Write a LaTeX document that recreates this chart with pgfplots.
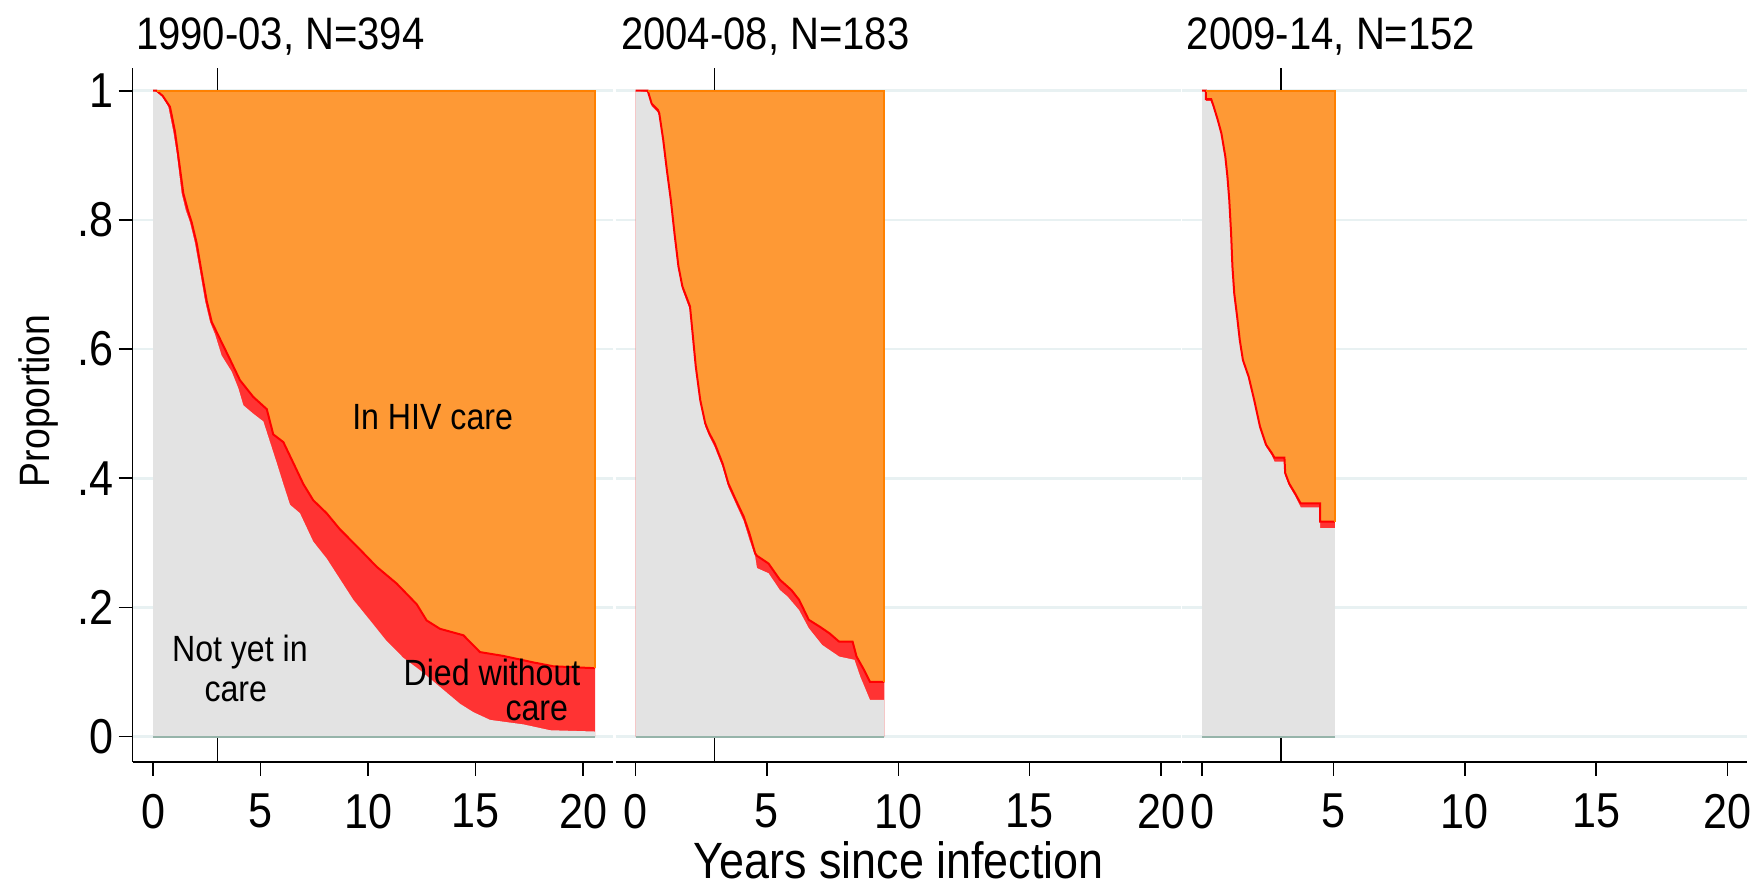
\documentclass[border=0pt]{standalone}
\usepackage{pgfplots}
\usepackage{pgfplotstable}
\pgfplotsset{compat=1.18}
\usepackage{fontspec}
\setmainfont{Liberation Sans}[FakeStretch=0.88]

\definecolor{orangec}{RGB}{254,153,53}
\definecolor{orangeline}{RGB}{255,128,0}
\definecolor{redc}{RGB}{255,51,51}
\definecolor{redline}{RGB}{255,0,0}
\definecolor{greyc}{RGB}{227,227,227}
\definecolor{tealc}{RGB}{150,180,170}
\definecolor{gridc}{RGB}{232,241,242}

% Panel 1: 1990-03  (D = not yet in care + died; G = not yet in care)
\pgfplotstableread{
t v
0 1
0.17 1
0.45 0.992
0.79 0.975
1.02 0.937
1.18 0.898
1.41 0.841
1.62 0.815
1.80 0.796
2.03 0.764
2.26 0.719
2.50 0.674
2.73 0.642
3.11 0.616
3.58 0.584
4.04 0.552
4.66 0.526
5.29 0.507
5.59 0.468
6.06 0.456
6.52 0.424
6.99 0.391
7.45 0.366
8.07 0.346
8.69 0.321
9.47 0.295
10.40 0.263
11.33 0.237
12.26 0.205
12.72 0.180
13.34 0.167
14.43 0.157
15.20 0.131
16.29 0.125
17.68 0.115
18.61 0.109
20.55 0.106
}\DonePA
\pgfplotstableread{
t v
0 1
0.17 0.998
0.45 0.990
0.71 0.975
0.94 0.937
1.10 0.904
1.33 0.841
1.52 0.815
1.72 0.796
1.95 0.764
2.19 0.719
2.42 0.674
2.65 0.642
2.88 0.623
3.19 0.590
3.66 0.565
3.97 0.539
4.20 0.513
4.66 0.500
5.13 0.488
5.44 0.456
5.75 0.424
6.06 0.391
6.37 0.359
6.83 0.346
7.45 0.302
8.07 0.276
8.69 0.244
9.31 0.212
10.09 0.180
10.86 0.148
11.64 0.122
12.41 0.103
13.34 0.077
14.27 0.051
14.89 0.038
15.67 0.026
17.22 0.019
18.46 0.010
20.55 0.008
}\GonePA

% Panel 2: 2004-08
\pgfplotstableread{
t v
0 1
0.46 1
0.61 0.980
0.85 0.970
0.90 0.965
1.05 0.924
1.19 0.877
1.34 0.831
1.48 0.779
1.63 0.728
1.78 0.697
2.07 0.666
2.17 0.624
2.29 0.573
2.46 0.521
2.65 0.485
2.80 0.470
3.01 0.454
3.31 0.423
3.53 0.392
3.82 0.366
4.11 0.341
4.33 0.315
4.55 0.284
4.62 0.280
5.06 0.268
5.49 0.243
5.93 0.227
6.22 0.212
6.59 0.181
7.02 0.170
7.38 0.160
7.75 0.147
8.26 0.147
8.41 0.124
8.70 0.103
8.92 0.085
9.47 0.085
}\DonePB
\pgfplotstableread{
t v
0 1
0.46 0.998
0.61 0.976
0.85 0.966
0.90 0.960
1.05 0.920
1.19 0.873
1.34 0.827
1.48 0.775
1.63 0.724
1.78 0.692
2.07 0.660
2.17 0.619
2.29 0.568
2.46 0.516
2.65 0.480
2.80 0.465
3.01 0.448
3.31 0.417
3.53 0.386
3.82 0.360
4.11 0.334
4.33 0.305
4.55 0.279
4.62 0.261
5.06 0.253
5.49 0.227
5.78 0.217
6.22 0.196
6.59 0.168
7.10 0.142
7.75 0.124
8.33 0.119
8.55 0.093
8.92 0.057
9.47 0.057
}\GonePB

% Panel 3: 2009-14
\pgfplotstableread{
t v
0 1
0.14 1
0.14 0.987
0.34 0.987
0.44 0.975
0.59 0.955
0.73 0.934
0.88 0.898
0.96 0.867
1.03 0.831
1.10 0.779
1.15 0.728
1.22 0.686
1.33 0.650
1.43 0.614
1.55 0.583
1.77 0.557
1.98 0.521
2.20 0.480
2.43 0.452
2.65 0.439
2.75 0.432
3.13 0.432
3.16 0.408
3.31 0.392
3.53 0.377
3.75 0.361
4.49 0.361
4.49 0.333
5.05 0.333
}\DonePC
\pgfplotstableread{
t v
0 1
0.14 0.998
0.14 0.984
0.34 0.984
0.44 0.972
0.59 0.952
0.73 0.931
0.88 0.895
0.96 0.864
1.03 0.828
1.10 0.776
1.15 0.725
1.22 0.683
1.33 0.647
1.43 0.611
1.55 0.580
1.77 0.554
1.98 0.518
2.20 0.477
2.43 0.449
2.65 0.435
2.75 0.426
3.13 0.426
3.16 0.404
3.31 0.388
3.53 0.373
3.75 0.355
4.49 0.355
4.49 0.323
5.05 0.323
}\GonePC

\pgfplotsset{
  panel/.style={
    scale only axis,
    height=693.4pt,
    anchor=south west,
    ymin=-0.0387, ymax=1.0347,
    axis x line*=bottom, axis y line*=left,
    ytick={0,0.2,0.4,0.6,0.8,1},
    yticklabels={0,.2,.4,.6,.8,1},
    xtick={0,5,10,15,20},
    ymajorgrids,
    major grid style={draw=gridc, line width=2.5pt},
    tick align=outside,
    major tick length=14pt,
    every tick/.style={black, line width=1.6pt},
    axis line style={black, line width=1.8pt},
    /pgf/number format/assume math mode=true,
    tick label style={font=\fontsize{49}{49}\selectfont, inner sep=0pt},
    xticklabel style={anchor=north, yshift=-18pt},
    yticklabel style={anchor=east, xshift=-5pt},
  },
  noy/.style={
    y axis line style={draw=none},
    ytick style={draw=none},
    yticklabels={},
  },
}
\tikzset{ann/.style={font=\fontsize{36.5}{36.5}\selectfont, inner sep=0pt, anchor=base}}

\begin{document}
\begin{tikzpicture}
\useasboundingbox (0,0) rectangle (1756pt,888pt);

% ---------- Panel 1 ----------
\begin{axis}[panel, at={(132.5pt,126.3pt)}, width=480.8pt,
  xmin=-0.953, xmax=21.399]
  \addplot[black, line width=1.6pt] coordinates {(3,-0.0387) (3,1.0347)};
  \addplot[fill=orangec, draw=none] coordinates {(0,1) (20.55,1)} \closedcycle;
  \addplot[fill=redc, draw=none] table[x=t, y=v] {\DonePA} \closedcycle;
  \addplot[fill=greyc, draw=none] table[x=t, y=v] {\GonePA} \closedcycle;
  \addplot[redline, line width=2pt] table[x=t, y=v] {\DonePA};
  \addplot[orangeline, line width=1.8pt] coordinates {(0.17,1) (20.55,1) (20.55,0.106)};
  \addplot[tealc, line width=2pt] coordinates {(0,0) (20.55,0)};
  \node[ann] at (axis cs:13.0,0.476) {In HIV care};
  \node[ann] at (axis cs:4.04,0.117) {Not yet in};
  \node[ann] at (axis cs:3.85,0.054) {care};
  \node[ann] at (axis cs:15.76,0.079) {Died without};
  \node[ann] at (axis cs:17.84,0.025) {care};
\end{axis}

% ---------- Panel 2 ----------
\begin{axis}[panel, noy, at={(615.7pt,126.3pt)}, width=565.3pt,
  xmin=-0.758, xmax=20.761]
  \addplot[black, line width=1.6pt] coordinates {(3,-0.0387) (3,1.0347)};
  \addplot[fill=orangec, draw=none] coordinates {(0,1) (9.47,1)} \closedcycle;
  \addplot[fill=redc, draw=none] table[x=t, y=v] {\DonePB} \closedcycle;
  \addplot[fill=greyc, draw=none] table[x=t, y=v] {\GonePB} \closedcycle;
  \addplot[redline, line width=2pt] table[x=t, y=v] {\DonePB};
  \addplot[orangeline, line width=1.8pt] coordinates {(0.46,1) (9.47,1) (9.47,0.085)};
  \addplot[tealc, line width=2pt] coordinates {(0,0) (9.47,0)};
\end{axis}

% ---------- Panel 3 ----------
\begin{axis}[panel, noy, at={(1182.3pt,126.3pt)}, width=565.1pt,
  xmin=-0.758, xmax=20.76]
  \addplot[black, line width=1.6pt] coordinates {(3,-0.0387) (3,1.0347)};
  \addplot[fill=orangec, draw=none] coordinates {(0,1) (5.05,1)} \closedcycle;
  \addplot[fill=redc, draw=none] table[x=t, y=v] {\DonePC} \closedcycle;
  \addplot[fill=greyc, draw=none] table[x=t, y=v] {\GonePC} \closedcycle;
  \addplot[redline, line width=2pt] table[x=t, y=v] {\DonePC};
  \addplot[orangeline, line width=1.8pt] coordinates {(0.14,1) (5.05,1) (5.05,0.333)};
  \addplot[tealc, line width=2pt] coordinates {(0,0) (5.05,0)};
\end{axis}

% ---------- titles and axis labels ----------
\node[anchor=base west, inner sep=0pt, font=\fontsize{45.5}{45.5}\selectfont] at (136pt,838pt) {1990-03, N=394};
\node[anchor=base west, inner sep=0pt, font=\fontsize{45.5}{45.5}\selectfont] at (621pt,838pt) {2004-08, N=183};
\node[anchor=base west, inner sep=0pt, font=\fontsize{45.5}{45.5}\selectfont] at (1186.7pt,838pt) {2009-14, N=152};
\node[anchor=base, inner sep=0pt, rotate=90, font=\fontsize{42.5}{42.5}\selectfont] at (50pt,487.2pt) {Proportion};
\node[anchor=base, inner sep=0pt, font=\fontsize{51}{51}\selectfont] at (898.8pt,9pt) {Years since infection};
\end{tikzpicture}
\end{document}
